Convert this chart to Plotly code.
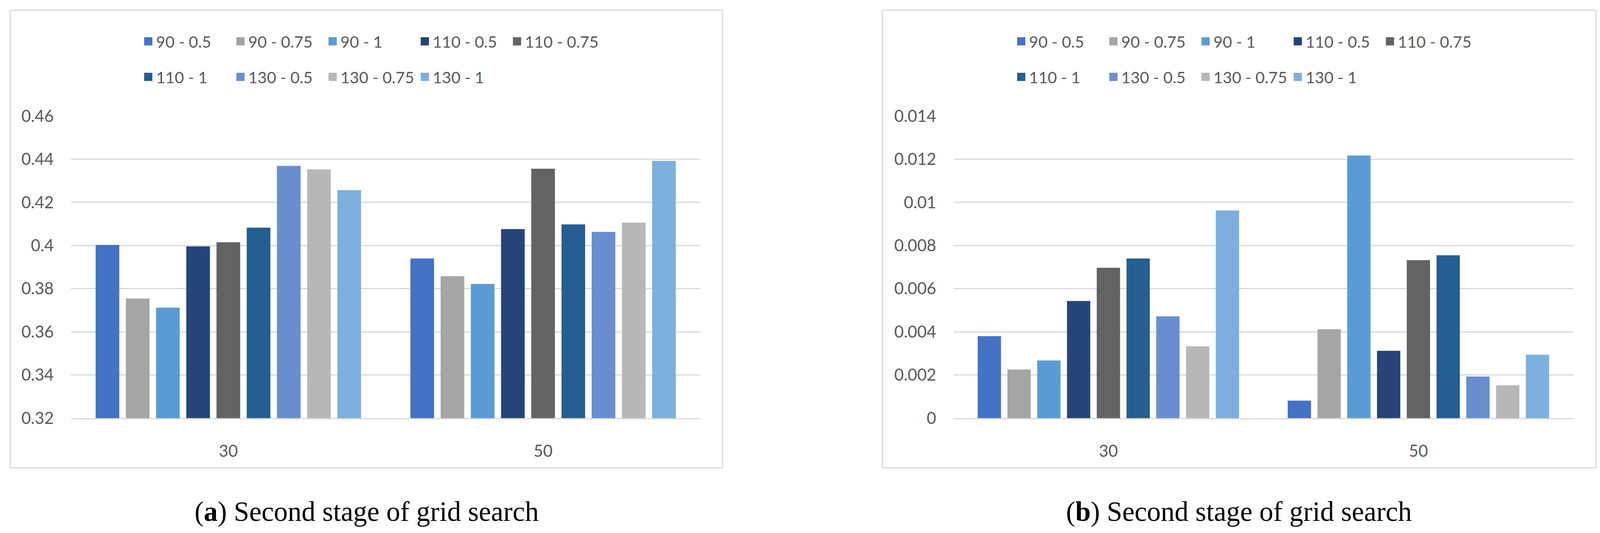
import plotly.graph_objects as go

# The browser viewport is 4096 px wide (body margin 8 px), so the 4397x1364
# reference layout is mapped onto a figure that exactly fills that viewport.
REF_W = 4397
VIEW_W, VIEW_H = 4096, 1364
PAGE_MARGIN = 8
FW, FH = VIEW_W - 2 * PAGE_MARGIN, VIEW_H - 2 * PAGE_MARGIN
SX = VIEW_W / REF_W

categories = ["30", "50"]
series_names = ["90 - 0.5", "90 - 0.75", "90 - 1", "110 - 0.5", "110 - 0.75",
                "110 - 1", "130 - 0.5", "130 - 0.75", "130 - 1"]
colors = ["#4472C4", "#A5A5A5", "#5B9BD5", "#264478", "#636363",
          "#255E91", "#698ED0", "#B7B7B7", "#7CAFDD"]

# panel (a)
left_30 = [0.4003, 0.3754, 0.3712, 0.3996, 0.4015, 0.4083, 0.4369, 0.4353, 0.4257]
left_50 = [0.3940, 0.3858, 0.3822, 0.4076, 0.4356, 0.4098, 0.4063, 0.4106, 0.4392]
# panel (b)
right_30 = [0.00380, 0.00225, 0.00267, 0.00543, 0.00697, 0.00740, 0.00472, 0.00333, 0.00962]
right_50 = [0.00081, 0.00412, 0.01217, 0.00312, 0.00732, 0.00755, 0.00193, 0.00152, 0.00294]

left_tickvals = [0.32, 0.34, 0.36, 0.38, 0.40, 0.42, 0.44, 0.46]
left_ticktext = ["0.32", "0.34", "0.36", "0.38", "0.4", "0.42", "0.44", "0.46"]
right_tickvals = [0, 0.002, 0.004, 0.006, 0.008, 0.010, 0.012, 0.014]
right_ticktext = ["0", "0.002", "0.004", "0.006", "0.008", "0.01", "0.012", "0.014"]

captions = ["(<b>a</b>) Second stage of grid search", "(<b>b</b>) Second stage of grid search"]

TXT = "#595959"
GRID = "#d9d9d9"
FONT = "Lato"
FS_AXIS = 42
FS_LEG = 41


def fx(x):
    """reference x pixel -> paper fraction"""
    return (x * SX - PAGE_MARGIN) / FW


def fy(y):
    """reference y pixel -> paper fraction"""
    return 1 - (y - PAGE_MARGIN) / FH


fig = go.Figure()

panels = [
    (left_30, left_50, "x", "y", "legend", "legend2"),
    (right_30, right_50, "x2", "y2", "legend3", "legend4"),
]
for v30, v50, xa, ya, lg1, lg2 in panels:
    for i, name in enumerate(series_names):
        fig.add_trace(go.Bar(
            x=categories, y=[v30[i], v50[i]], name=name,
            marker=dict(color=colors[i], line=dict(width=0)),
            xaxis=xa, yaxis=ya, showlegend=False, hoverinfo="x+y+name",
        ))
    for i, name in enumerate(series_names):
        fig.add_trace(go.Scatter(
            x=[None], y=[None], mode="markers", name=name,
            marker=dict(symbol="square", size=16, color=colors[i],
                        line=dict(color=colors[i], width=5)),
            xaxis=xa, yaxis=ya, legend=lg1 if i < 5 else lg2,
        ))


def legend_cfg(xpix, ypix):
    return dict(orientation="h", x=fx(xpix), y=fy(ypix), xanchor="left", yanchor="middle",
                font=dict(family=FONT, size=FS_LEG, color=TXT), entrywidth=191,
                entrywidthmode="pixels", bgcolor="rgba(0,0,0,0)", borderwidth=0,
                traceorder="normal")


axis_font = dict(family=FONT, size=FS_AXIS, color=TXT)
ydom = [fy(1070), fy(297)]

fig.update_layout(
    width=FW, height=FH,
    margin=dict(l=0, r=0, t=0, b=0, autoexpand=False),
    paper_bgcolor="white", plot_bgcolor="white",
    barmode="group", bargap=0.136, bargroupgap=0.217,
    xaxis=dict(domain=[fx(195), fx(1925)], anchor="y", showgrid=False, showline=True,
               linecolor=GRID, linewidth=3, ticks="", tickfont=axis_font,
               ticklabelstandoff=46, fixedrange=True),
    yaxis=dict(domain=ydom, anchor="x", range=[0.32, 0.46], tickvals=left_tickvals,
               ticktext=left_ticktext, showgrid=True, gridcolor=GRID, gridwidth=3,
               zeroline=False, showline=False, ticks="", tickfont=axis_font,
               ticklabelstandoff=43, fixedrange=True),
    xaxis2=dict(domain=[fx(2620), fx(4324)], anchor="y2", showgrid=False, showline=True,
                linecolor=GRID, linewidth=3, ticks="", tickfont=axis_font,
                ticklabelstandoff=46, fixedrange=True),
    yaxis2=dict(domain=ydom, anchor="x2", range=[0, 0.014], tickvals=right_tickvals,
                ticktext=right_ticktext, showgrid=True, gridcolor=GRID, gridwidth=3,
                zeroline=False, showline=False, ticks="", tickfont=axis_font,
                ticklabelstandoff=43, fixedrange=True),
    legend=legend_cfg(386, 106),
    legend2=legend_cfg(386, 197),
    legend3=legend_cfg(2785, 106),
    legend4=legend_cfg(2785, 197),
    shapes=[
        dict(type="rect", xref="paper", yref="paper", x0=fx(28), x1=fx(1986),
             y0=fy(1197), y1=fy(26), line=dict(color=GRID, width=3), layer="below"),
        dict(type="rect", xref="paper", yref="paper", x0=fx(2425), x1=fx(4386),
             y0=fy(1197), y1=fy(26), line=dict(color=GRID, width=3), layer="below"),
    ],
    annotations=[
        dict(text=captions[0], xref="paper", yref="paper", x=fx(1007), y=fy(1309),
             xanchor="center", yanchor="middle", showarrow=False,
             font=dict(family="Liberation Serif", size=71, color="black")),
        dict(text=captions[1], xref="paper", yref="paper", x=fx(3405), y=fy(1309),
             xanchor="center", yanchor="middle", showarrow=False,
             font=dict(family="Liberation Serif", size=71, color="black")),
    ],
)

fig.write_html("out.html")
